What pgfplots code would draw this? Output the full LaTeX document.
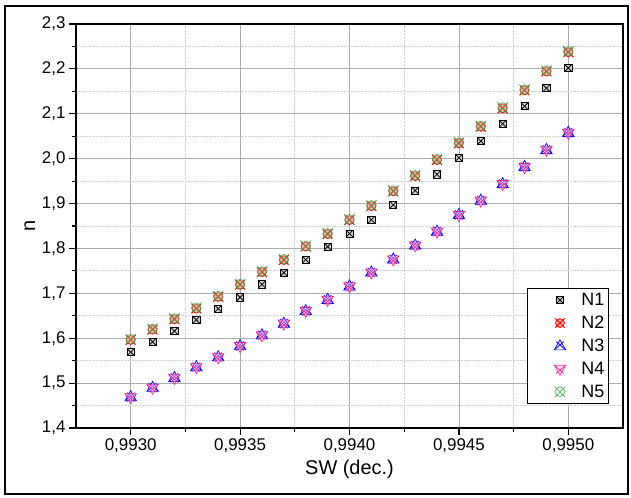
\documentclass[border=0pt]{standalone}
\usepackage{pgfplots}
\pgfplotsset{compat=1.18}
\usepackage{pgfplotstable}
\usepackage{fontspec}
\setmainfont{Liberation Sans}
\usetikzlibrary{plotmarks}

\definecolor{ngreen}{HTML}{2E9A2E}

% Origin-style "X-ed" markers
\pgfdeclareplotmark{boxx}{%
  \pgfpathrectangle{\pgfqpoint{-\pgfplotmarksize}{-\pgfplotmarksize}}{\pgfqpoint{2\pgfplotmarksize}{2\pgfplotmarksize}}%
  \pgfusepathqfillstroke
  \pgfpathmoveto{\pgfqpoint{-\pgfplotmarksize}{-\pgfplotmarksize}}\pgfpathlineto{\pgfqpoint{\pgfplotmarksize}{\pgfplotmarksize}}%
  \pgfpathmoveto{\pgfqpoint{-\pgfplotmarksize}{\pgfplotmarksize}}\pgfpathlineto{\pgfqpoint{\pgfplotmarksize}{-\pgfplotmarksize}}%
  \pgfusepathqstroke}
\pgfdeclareplotmark{circx}{%
  \pgfpathcircle{\pgfpointorigin}{\pgfplotmarksize}%
  \pgfusepathqfillstroke
  \pgfpathmoveto{\pgfqpoint{-1.1\pgfplotmarksize}{-1.1\pgfplotmarksize}}\pgfpathlineto{\pgfqpoint{1.1\pgfplotmarksize}{1.1\pgfplotmarksize}}%
  \pgfpathmoveto{\pgfqpoint{-1.1\pgfplotmarksize}{1.1\pgfplotmarksize}}\pgfpathlineto{\pgfqpoint{1.1\pgfplotmarksize}{-1.1\pgfplotmarksize}}%
  \pgfusepathqstroke}
\pgfdeclareplotmark{triux}{%
  \pgfpathmoveto{\pgfqpoint{0pt}{\pgfplotmarksize}}%
  \pgfpathlineto{\pgfqpoint{-.9\pgfplotmarksize}{-.6\pgfplotmarksize}}%
  \pgfpathlineto{\pgfqpoint{.9\pgfplotmarksize}{-.6\pgfplotmarksize}}%
  \pgfpathclose
  \pgfusepathqfillstroke
  \pgfpathmoveto{\pgfqpoint{-.9\pgfplotmarksize}{-.6\pgfplotmarksize}}\pgfpathlineto{\pgfqpoint{.6\pgfplotmarksize}{.7\pgfplotmarksize}}%
  \pgfpathmoveto{\pgfqpoint{.9\pgfplotmarksize}{-.6\pgfplotmarksize}}\pgfpathlineto{\pgfqpoint{-.6\pgfplotmarksize}{.7\pgfplotmarksize}}%
  \pgfusepathqstroke}
\pgfdeclareplotmark{tridx}{%
  \pgfpathmoveto{\pgfqpoint{0pt}{-\pgfplotmarksize}}%
  \pgfpathlineto{\pgfqpoint{-.9\pgfplotmarksize}{.6\pgfplotmarksize}}%
  \pgfpathlineto{\pgfqpoint{.9\pgfplotmarksize}{.6\pgfplotmarksize}}%
  \pgfpathclose
  \pgfusepathqfillstroke
  \pgfpathmoveto{\pgfqpoint{-.9\pgfplotmarksize}{.6\pgfplotmarksize}}\pgfpathlineto{\pgfqpoint{.6\pgfplotmarksize}{-.7\pgfplotmarksize}}%
  \pgfpathmoveto{\pgfqpoint{.9\pgfplotmarksize}{.6\pgfplotmarksize}}\pgfpathlineto{\pgfqpoint{-.6\pgfplotmarksize}{-.7\pgfplotmarksize}}%
  \pgfusepathqstroke}

\pgfplotsset{
  dots/.style={only marks,
    legend image code/.code={%
      \path (0bp,0bp) (49bp,0bp);
      \draw[mark repeat=2,mark phase=2] plot coordinates {(0bp,0bp)(30bp,0bp)(49bp,0bp)};}},
}

\pgfplotstableread{
x      n1    n2    n3    n4    n5
0.9930 1.569 1.596 1.469 1.468 1.598
0.9931 1.592 1.619 1.490 1.489 1.621
0.9932 1.616 1.642 1.512 1.511 1.644
0.9933 1.641 1.666 1.536 1.535 1.668
0.9934 1.666 1.692 1.558 1.557 1.694
0.9935 1.691 1.719 1.583 1.582 1.721
0.9936 1.720 1.747 1.607 1.606 1.749
0.9937 1.746 1.774 1.633 1.632 1.776
0.9938 1.775 1.804 1.661 1.660 1.806
0.9939 1.804 1.832 1.686 1.685 1.834
0.9940 1.833 1.863 1.716 1.715 1.865
0.9941 1.864 1.894 1.747 1.746 1.896
0.9942 1.897 1.927 1.776 1.775 1.929
0.9943 1.929 1.961 1.807 1.806 1.963
0.9944 1.965 1.997 1.838 1.837 1.999
0.9945 2.002 2.034 1.875 1.874 2.036
0.9946 2.039 2.071 1.907 1.906 2.073
0.9947 2.078 2.112 1.944 1.943 2.114
0.9948 2.117 2.152 1.982 1.981 2.154
0.9949 2.157 2.194 2.020 2.019 2.196
0.9950 2.202 2.237 2.058 2.057 2.239
}\ndata

\begin{document}
\begin{tikzpicture}
\useasboundingbox (-76bp,-70bp) rectangle (555bp,428bp);
\draw[line width=2bp] (-71bp,-66bp) rectangle (552bp,422bp);
\begin{axis}[
  at={(0bp,0bp)}, anchor=south west,
  scale only axis, width=547bp, height=404bp,
  xmin=0.99275, xmax=0.99525, ymin=1.4, ymax=2.3,
  xtick={0.993,0.9935,0.994,0.9945,0.995},
  minor xtick={0.99325,0.99375,0.99425,0.99475},
  ytick={1.4,1.5,1.6,1.7,1.8,1.9,2.0,2.1,2.2,2.3},
  minor ytick={1.45,1.55,1.65,1.75,1.85,1.95,2.05,2.15,2.25},
  scaled x ticks=false, scaled y ticks=false,
  xticklabel style={/pgf/number format/.cd, fixed, fixed zerofill, precision=4, use comma},
  yticklabel style={/pgf/number format/.cd, fixed, fixed zerofill, precision=1, use comma},
  /pgf/number format/assume math mode=true,
  ticklabel style={font=\fontsize{17}{17}\selectfont},
  grid=both,
  major grid style={gray!65, line width=0.8bp},
  minor grid style={gray!35, densely dotted, line width=0.9bp},
  axis line style={line width=1.6bp, black},
  xtick pos=left, ytick pos=left, tick align=outside,
  major tick length=7bp, minor tick length=4bp,
  every tick/.style={black, line width=1.2bp},
  xlabel={SW (dec.)}, ylabel={n},
  label style={font=\fontsize{20}{20}\selectfont},
  xlabel style={yshift=-1bp},
  ylabel style={yshift=0bp},
  legend style={at={(0.974,0.059)}, anchor=south east, draw=black, line width=0.9bp,
    font=\fontsize{18}{18}\selectfont, row sep=5bp, inner xsep=2bp, inner ysep=3bp},
  legend cell align=left,
]
\addplot[dots, mark=boxx, mark size=3.6bp, mark options={draw=black, fill=gray!35, line width=0.8bp}] table[x=x,y=n1] {\ndata};
\addlegendentry{N1}
\addplot[dots, mark=circx, mark size=4.4bp, mark options={draw=red, fill=red!35, line width=0.8bp}] table[x=x,y=n2] {\ndata};
\addlegendentry{N2}
\addplot[dots, mark=triux, mark size=6.3bp, mark options={draw=blue, fill=blue!15, fill opacity=0.5, line width=0.7bp}] table[x=x,y=n3] {\ndata};
\addlegendentry{N3}
\addplot[dots, mark=tridx, mark size=6.3bp, mark options={draw=magenta, fill=magenta!20, fill opacity=0.5, line width=0.7bp, draw opacity=0.8}] table[x=x,y=n4] {\ndata};
\addlegendentry{N4}
\addplot[dots, mark=circx, mark size=4.8bp, mark options={draw=ngreen, fill=ngreen!20, fill opacity=0.3, draw opacity=0.75, line width=0.7bp}] table[x=x,y=n5] {\ndata};
\addlegendentry{N5}
\end{axis}
\end{tikzpicture}
\end{document}
